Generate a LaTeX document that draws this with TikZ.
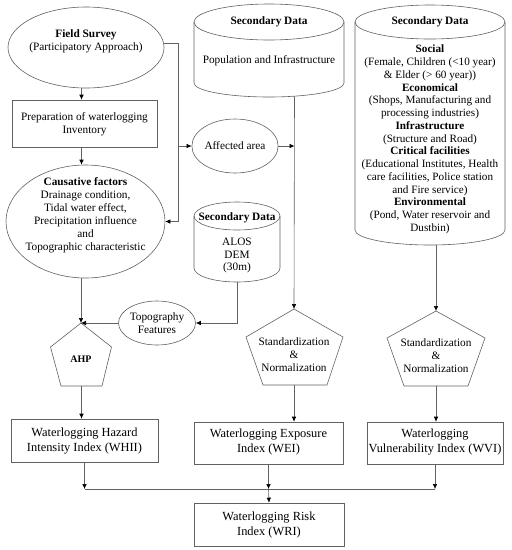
\documentclass[tikz,border=0pt]{standalone}
\usepackage{fontspec}
\setmainfont{Liberation Serif}
\usetikzlibrary{shapes.geometric,arrows.meta,calc}
\begin{document}
\begin{tikzpicture}[x=1pt,y=-1pt,
  ln/.style={draw=black!62,line width=0.6pt},
  arr/.style={ln,-{Latex[length=5pt,width=4.5pt,fill=black,color=black]}},
  txt/.style={align=center,inner sep=0pt,font=\fontsize{11.3}{13}\selectfont},
  big/.style={align=center,inner sep=0pt,font=\fontsize{12.4}{15}\selectfont},
  ell/.style={ln,ellipse,inner sep=0pt},
  box/.style={ln,rectangle,inner sep=0pt}]
\useasboundingbox (0,0) rectangle (512,550);
\fill[white] (0,0) rectangle (512,550);
\coordinate (lc) at (81.5,0);
% Field survey
\node[ell,minimum width=156,minimum height=81] (fs) at (86,47.5) {};
\node[txt] (fst) at (86,41.5) {\textbf{Field Survey}\\(Participatory Approach)};
% Preparation
\node[box,minimum width=145,minimum height=47] (prep) at (84.5,123.5) {};
\node[txt] (prept) at (84.5,124.5) {Preparation of waterlogging\\Inventory};
% Causative
\node[ell,minimum width=159,minimum height=113] (caus) at (85.5,221.5) {};
\node[txt] (caust) at (85.5,215.5) {\textbf{Causative factors}\\Drainage condition,\\Tidal water effect,\\Precipitation influence\\and\\Topographic characteristic};
% Middle cylinder
\draw[ln] (194,22) -- (194,83) arc[start angle=180,end angle=0,x radius=75,y radius=14] -- (344,22);
\draw[ln] (269,22) ellipse[x radius=75,y radius=18];
\node[txt] (mcs) at (269,22) {\textbf{Secondary Data}};
\node[txt] (mcp) at (269,61) {Population and Infrastructure};
\coordinate (midb) at (294.5,96.3);
% ALOS cylinder
\draw[ln] (194,216) -- (194,268) arc[start angle=180,end angle=0,x radius=43,y radius=14] -- (280,216);
\draw[ln] (237,216) ellipse[x radius=43,y radius=14];
\node[txt] (als) at (237,217.5) {\textbf{Secondary Data}};
\node[txt,font=\fontsize{11.3}{12.5}\selectfont] (alt) at (237,255.5) {ALOS\\DEM\\(30m)};
\coordinate (alosb) at (237.5,282);
% Right cylinder
\draw[ln] (355,22) -- (355,230) arc[start angle=180,end angle=0,x radius=75,y radius=15] -- (505,22);
\draw[ln] (430,22) ellipse[x radius=75,y radius=17];
\node[txt] (rcs) at (430,22) {\textbf{Secondary Data}};
\node[txt,font=\fontsize{11.2}{12.75}\selectfont] (rct) at (430,139.5) {\textbf{Social}\\(Female, Children (<10 year)\\\& Elder (> 60 year))\\\textbf{Economical}\\(Shops, Manufacturing and\\processing industries)\\\textbf{Infrastructure}\\(Structure and Road)\\\textbf{Critical facilities}\\(Educational Institutes, Health\\care facilities, Police station\\and Fire service)\\\textbf{Environmental}\\(Pond, Water reservoir and\\Dustbin)};
\coordinate (rb) at (436,244.8);
% Affected area
\node[ell,minimum width=84,minimum height=54,txt,ln] (aff) at (235,146) {Affected area};
% Topography
\node[ell,minimum width=75,minimum height=44,txt,ln] (topo) at (157,323) {Topography\\Features};
% AHP pentagon
\draw[ln] (81,323) -- (111.5,347) -- (102,386) -- (61,386) -- (50.5,347) -- cycle;
\coordinate (ahpt) at (81,323);
\coordinate (ahpb) at (81.5,386);
\node[inner sep=0pt,font=\fontsize{10}{12}\selectfont\bfseries] (ahp) at (81,359) {AHP};
% WEI pentagon
\draw[ln] (294,309) -- (343,337) -- (327,385) -- (263,385) -- (246,337) -- cycle;
\coordinate (weit) at (294,309);
\coordinate (weib) at (294,385);
\node[txt] (weip) at (294,354.5) {Standardization\\\&\\Normalization};
% WVI pentagon
\draw[ln] (436,311) -- (485,338) -- (468,386) -- (404,386) -- (387,338) -- cycle;
\coordinate (wvit) at (436,311);
\coordinate (wvib) at (436,386);
\node[txt] (wvip) at (436,355.5) {Standardization\\\&\\Normalization};
% Index boxes
\node[box,minimum width=147,minimum height=43] (whii) at (84.5,440.5) {};
\node[big] (whiit) at (84.5,441.5) {Waterlogging Hazard\\Intensity Index (WHII)};
\node[box,minimum width=149,minimum height=42] (wei) at (268.5,443) {};
\node[big] (weit2) at (268.5,442.5) {Waterlogging Exposure\\Index (WEI)};
\node[box,minimum width=136,minimum height=42] (wvi) at (435,443) {};
\node[big] (wvit2) at (435,442.5) {Waterlogging\\Vulnerability Index (WVI)};
\node[box,minimum width=150,minimum height=43] (wri) at (269,524.5) {};
\node[big] (writ) at (269,525.5) {Waterlogging Risk\\Index (WRI)};
\coordinate (bus) at (0,489);
\coordinate (j1) at (178,43);
% Connectors
\draw[arr] (lc |- fs.south) -- (lc |- prep.north);
\draw[arr] (lc |- prep.south) -- (lc |- caus.north);
\draw[arr] (fs.east |- j1) -- (j1) |- (caus.east);
\draw[arr] (j1 |- aff.west) -- (aff.west);
\draw[arr] (ahpt |- caus.south) -- (ahpt);
\draw[arr] (topo.west) -- (ahpt);
\draw[arr] (alosb) |- (topo.east);
\draw[arr] (ahpb) -- (ahpb |- whii.north);
\draw[arr] (midb) -- (weit);
\draw[arr] (aff.east) -- (aff.east -| midb);
\draw[arr] (weib) -- (weib |- wei.north);
\draw[arr] (rb) -- (wvit);
\draw[arr] (wvib) -- (wvib |- wvi.north);
\draw[ln] (whii.south |- bus) -- (wvi.south |- bus);
\draw[arr] (whii.south) -- (whii.south |- bus);
\draw[arr] (wei.south) -- (wei.south |- bus);
\draw[arr] (wvi.south) -- (wvi.south |- bus);
\draw[arr] (wei.south |- bus) -- (wri.north);
\end{tikzpicture}
\end{document}
